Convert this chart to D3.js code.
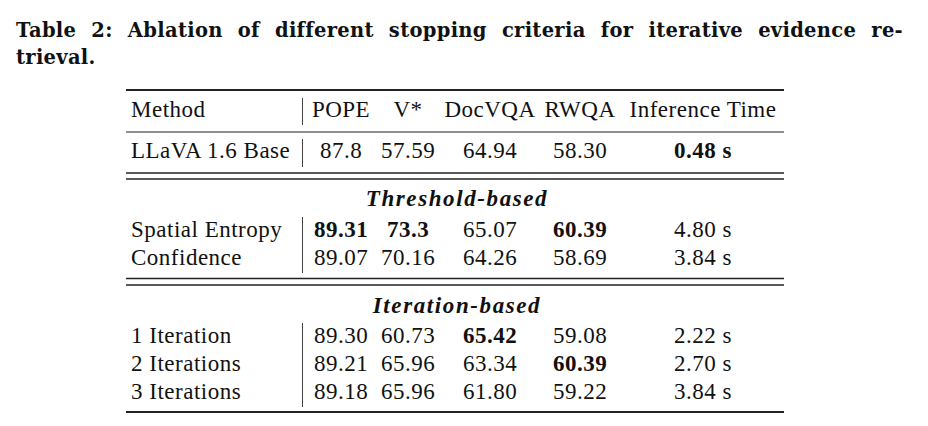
<!DOCTYPE html>
<html>
<head>
<meta charset="utf-8">
<script src="https://cdn.jsdelivr.net/npm/d3@7"></script>
<style>
  body { margin: 0; background: #fff; }
</style>
</head>
<body>
<script>
// variables:
var w = 928
var h = 426

// table data
var columns = ['POPE', 'V*', 'DocVQA', 'RWQA', 'Inference Time']
var methods = ['LLaVA 1.6 Base', 'Spatial Entropy', 'Confidence', '1 Iteration', '2 Iterations', '3 Iterations']
var groups = ['', 'Threshold-based', 'Threshold-based', 'Iteration-based', 'Iteration-based', 'Iteration-based']
var pope = ['87.8', '89.31', '89.07', '89.30', '89.21', '89.18']
var vstar = ['57.59', '73.3', '70.16', '60.73', '65.96', '65.96']
var docvqa = ['64.94', '65.07', '64.26', '65.42', '63.34', '61.80']
var rwqa = ['58.30', '60.39', '58.69', '59.08', '60.39', '59.22']
var inferenceTime = [0.48, 4.80, 3.84, 2.22, 2.70, 3.84]
var sectionTitles = ['Threshold-based', 'Iteration-based']

var titleLines = [
  'Table 2: Ablation of different stopping criteria for iterative evidence re-',
  'trieval.'
]

// layout
var left = 126
var right = 784
var sepX = 302.5
var rowStep = 28
var fontSize = 23
var serif = '"Liberation Serif", "Times New Roman", Times, serif'
var wideSerif = '"DejaVu Serif", "Liberation Serif", serif'

var svg = d3.select('body')
  .append('svg')
  .attr('width', w)
  .attr('height', h)
  .attr('font-family', serif)

// column centres
var xScale = d3.scaleOrdinal()
  .domain(columns)
  .range([341, 408, 490, 580, 703])

// row baselines per section
var sectionY = { '': 158, 'Threshold-based': 237, 'Iteration-based': 343 }
var titleY = { 'Threshold-based': 206, 'Iteration-based': 313 }

var rows = methods.map(function (m, i) {
  var idx = groups.slice(0, i).filter(function (g) { return g === groups[i] }).length
  return {
    method: m,
    group: groups[i],
    y: d3.scaleLinear().domain([0, 1]).range([sectionY[groups[i]], sectionY[groups[i]] + rowStep])(idx),
    values: [pope[i], vstar[i], docvqa[i], rwqa[i], inferenceTime[i].toFixed(2) + ' s'],
    nums: [+pope[i], +vstar[i], +docvqa[i], +rwqa[i], inferenceTime[i]]
  }
})

// best value per column: highest accuracy, lowest time
var best = columns.map(function (c, j) {
  var vals = rows.map(function (r) { return r.nums[j] })
  return j === 4 ? d3.min(vals) : d3.max(vals)
})

// caption, first line justified by adjusting the word gaps
var title = svg.selectAll('text.title')
  .data(titleLines)
  .enter()
  .append('text')
  .attr('class', 'title')
  .attr('x', 16)
  .attr('y', function (d, i) { return 37 + i * 26.5 })
  .attr('font-family', wideSerif)
  .attr('font-size', '19.5px')
  .attr('font-weight', 'bold')
  .attr('letter-spacing', 0.3)
  .attr('fill', '#111')
  .text(function (d) { return d })

title.filter(function (d, i) { return i === 0 })
  .each(function (d) {
    var natural = this.getComputedTextLength()
    var gaps = d.split(' ').length - 1
    d3.select(this).attr('word-spacing', (887 - natural) / gaps)
  })

// horizontal rules
var rules = [
  { y: 90, sw: 2 },
  { y: 132, sw: 1.1 },
  { y: 173, sw: 1.3 },
  { y: 179, sw: 1.3 },
  { y: 278.5, sw: 1.3 },
  { y: 285, sw: 1.3 },
  { y: 412, sw: 2 }
]
svg.selectAll('line.rule')
  .data(rules)
  .enter()
  .append('line')
  .attr('class', 'rule')
  .attr('x1', left)
  .attr('x2', right)
  .attr('y1', function (d) { return d.y })
  .attr('y2', function (d) { return d.y })
  .attr('stroke', '#222')
  .attr('stroke-width', function (d) { return d.sw })

// vertical separator segments
var vsegs = [[98, 125], [139, 167], [217, 273], [323, 407]]
svg.selectAll('line.vsep')
  .data(vsegs)
  .enter()
  .append('line')
  .attr('class', 'vsep')
  .attr('x1', sepX)
  .attr('x2', sepX)
  .attr('y1', function (d) { return d[0] })
  .attr('y2', function (d) { return d[1] })
  .attr('stroke', '#444')
  .attr('stroke-width', 1)

var body = svg.append('g')
  .attr('font-size', fontSize + 'px')
  .attr('letter-spacing', 0.5)
  .attr('fill', '#111')

// header
body.append('text')
  .attr('x', 131)
  .attr('y', 117)
  .text('Method')

body.selectAll('text.head')
  .data(columns)
  .enter()
  .append('text')
  .attr('class', 'head')
  .attr('x', function (d) { return xScale(d) })
  .attr('y', 117)
  .attr('text-anchor', 'middle')
  .text(function (d) { return d })

// section titles
body.selectAll('text.section')
  .data(sectionTitles)
  .enter()
  .append('text')
  .attr('class', 'section')
  .attr('x', (left + right) / 2 + 2)
  .attr('y', function (d) { return titleY[d] })
  .attr('text-anchor', 'middle')
  .attr('font-weight', 'bold')
  .attr('font-style', 'italic')
  .attr('letter-spacing', 1.6)
  .text(function (d) { return d })

// body rows
var rowG = body.selectAll('g.row')
  .data(rows)
  .enter()
  .append('g')
  .attr('class', 'row')

rowG.append('text')
  .attr('x', 131)
  .attr('y', function (d) { return d.y })
  .text(function (d) { return d.method })

rowG.selectAll('text.cell')
  .data(function (d) {
    return d.values.map(function (v, j) {
      return { col: columns[j], text: v, y: d.y, bold: d.nums[j] === best[j] }
    })
  })
  .enter()
  .append('text')
  .attr('class', 'cell')
  .attr('x', function (d) { return xScale(d.col) })
  .attr('y', function (d) { return d.y })
  .attr('text-anchor', 'middle')
  .attr('font-weight', function (d) { return d.bold ? 'bold' : 'normal' })
  .text(function (d) { return d.text })
</script>
</body>
</html>
